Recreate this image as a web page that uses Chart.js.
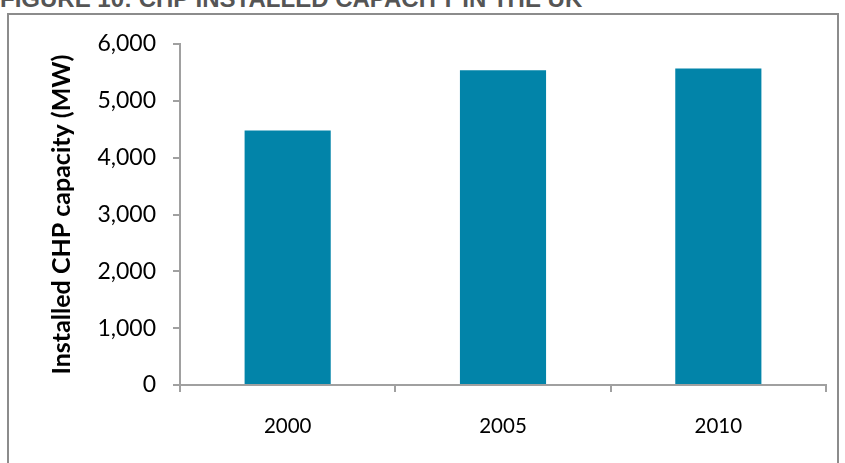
<!DOCTYPE html>
<html>
<head>
<meta charset="utf-8">
<title>CHP installed capacity in the UK</title>
<script src="https://cdn.jsdelivr.net/npm/chart.js@4"></script>
<style>
  html, body { margin: 0; padding: 0; background: #fff; overflow: hidden; }
  body { width: 845px; height: 463px; position: relative; }
  #fig-title {
    position: absolute; left: 0; top: -13px;
    font: bold 24px "Liberation Sans", Arial, sans-serif; line-height: 24px;
    color: #555; white-space: nowrap;
  }
  #frame {
    position: absolute; left: 7px; top: 13px; width: 832px; height: 480px;
    border: 2px solid #8c8c8c; box-sizing: border-box;
  }
  #wrap { position: absolute; left: 0; top: 0; width: 845px; height: 463px; }
</style>
</head>
<body>
<div id="fig-title">FIGURE 10: CHP INSTALLED CAPACITY IN THE UK</div>
<div id="frame"></div>
<div id="wrap"><canvas id="chp-chart" width="845" height="463"></canvas></div>
<script>
// installed CHP capacity, MW
const years = ['2000', '2005', '2010'];
const capacityMW = [4480, 5540, 5570];
const yMin = 0;
const yMax = 6000;
const yStep = 1000;

const axisGrey = '#a0a0a0';
const barColour = '#0284a9';

const chart = new Chart(document.getElementById('chp-chart'), {
    type: 'bar',
    data: {
        labels: years,
        datasets: [{
            label: 'Installed CHP capacity (MW)',
            data: capacityMW,
            backgroundColor: barColour,
            borderWidth: 0,
            barPercentage: 0.4,
            categoryPercentage: 1.0
        }]
    },
    options: {
        responsive: false,
        animation: false,
        layout: { padding: { top: 44, right: 19, left: 0, bottom: 0 } },
        plugins: {
            legend: { display: false },
            tooltip: { enabled: false }
        },
        scales: {
            x: {
                grid: { offset: true, drawOnChartArea: false, drawTicks: true, tickLength: 7, color: axisGrey, lineWidth: 2 },
                border: { color: axisGrey, width: 2 },
                ticks: { color: '#000', font: { family: 'Lato', size: 20.5 }, padding: 22, maxRotation: 0 },
                afterFit: s => { s.height = 78; }
            },
            y: {
                min: yMin,
                max: yMax,
                grid: { drawOnChartArea: false, drawTicks: true, tickLength: 7, color: axisGrey, lineWidth: 2 },
                border: { color: axisGrey, width: 2 },
                ticks: {
                    stepSize: yStep,
                    color: '#000',
                    font: { family: 'Lato', size: 23 },
                    padding: 17,
                    callback: v => v.toLocaleString('en-US')
                },
                title: {
                    display: true,
                    text: 'Installed CHP capacity (MW)',
                    color: '#000',
                    font: { family: 'Lato', size: 25, weight: 'bold' },
                    padding: { top: 47, bottom: 0 }
                },
                afterFit: s => { s.width = 180; }
            }
        }
    }
});
</script>
</body>
</html>
